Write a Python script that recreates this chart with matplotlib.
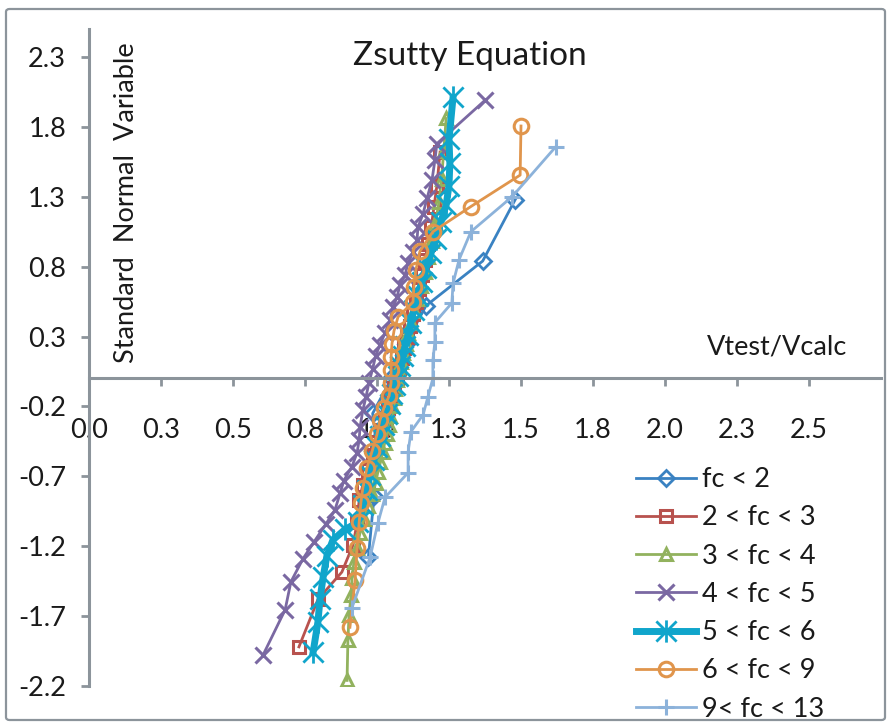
import matplotlib
matplotlib.use("Agg")
import matplotlib.pyplot as plt
from matplotlib.patches import FancyBboxPatch
from matplotlib.path import Path

plt.rcParams['font.family'] = ['Lato', 'DejaVu Sans']

title = "Zsutty Equation"
ylabel = "Standard  Normal  Variable"
xlabel = "Vtest/Vcalc"

x_ticks = [0.0, 0.25, 0.5, 0.75, 1.0, 1.25, 1.5, 1.75, 2.0, 2.25, 2.5]
x_tick_labels = ["0.0", "0.3", "0.5", "0.8", "1.0", "1.3", "1.5", "1.8", "2.0", "2.3", "2.5"]
y_ticks = [-2.2, -1.7, -1.2, -0.7, -0.2, 0.3, 0.8, 1.3, 1.8, 2.3]
y_tick_labels = ["-2.2", "-1.7", "-1.2", "-0.7", "-0.2", "0.3", "0.8", "1.3", "1.8", "2.3"]

labels = ["fc < 2", "2 < fc < 3", "3 < fc < 4", "4 < fc < 5", "5 < fc < 6", "6 < fc < 9", "9< fc < 13"]

s1_x = [0.97, 0.99, 1.0, 0.985, 1.05, 1.10, 1.17, 1.367, 1.48]
s1_y = [-1.28, -0.84, -0.52, -0.25, 0.0, 0.25, 0.52, 0.84, 1.28]

s2_x = [0.729, 0.795, 0.878, 0.917, 0.931, 0.938, 0.951, 0.969, 0.986, 1.0, 1.014, 1.028, 1.038,
        1.049, 1.059, 1.069, 1.076, 1.087, 1.094, 1.104, 1.115, 1.125, 1.135, 1.146, 1.156, 1.167,
        1.177, 1.188, 1.198, 1.208, 1.219]
s2_y = [-1.92, -1.58, -1.385, -1.19, -1.03, -0.87, -0.76, -0.655, -0.55, -0.455, -0.37, -0.29, -0.21,
        -0.14, -0.07, 0.0, 0.075, 0.147, 0.22, 0.297, 0.375, 0.46, 0.547, 0.64, 0.74, 0.848,
        0.96, 1.08, 1.23, 1.38, 1.62]

s3_x = [0.896, 0.899, 0.903, 0.91, 0.913, 0.92, 0.93, 0.941, 0.955, 0.969, 0.983, 0.995, 1.003,
        1.012, 1.02, 1.027, 1.034, 1.04, 1.046, 1.052, 1.058, 1.064, 1.07, 1.077, 1.084, 1.092,
        1.1, 1.108, 1.118, 1.128, 1.14, 1.152, 1.165, 1.177, 1.19, 1.203, 1.215, 1.224, 1.232, 1.24]
s3_y = [-2.16, -1.87, -1.69, -1.55, -1.43, -1.31, -1.21, -1.105, -1.005, -0.91, -0.83, -0.75, -0.67,
        -0.6, -0.525, -0.46, -0.4, -0.33, -0.27, -0.2, -0.14, -0.075, -0.01, 0.05, 0.12, 0.18,
        0.25, 0.325, 0.4, 0.48, 0.57, 0.66, 0.76, 0.87, 0.98, 1.11, 1.26, 1.43, 1.63, 1.86]

s4_x = [0.604, 0.681, 0.701, 0.743, 0.781, 0.823, 0.854, 0.872, 0.885, 0.913, 0.931, 0.938, 0.941,
        0.951, 0.962, 0.972, 0.985, 0.995, 1.010, 1.028, 1.045, 1.056, 1.069, 1.080, 1.097, 1.108,
        1.125, 1.139, 1.142, 1.160, 1.174, 1.191, 1.201, 1.208, 1.375]
s4_y = [-1.98, -1.655, -1.455, -1.29, -1.17, -1.04, -0.94, -0.82, -0.73, -0.63, -0.53, -0.44, -0.35,
        -0.225, -0.13, -0.03, 0.07, 0.16, 0.24, 0.325, 0.418, 0.51, 0.58, 0.67, 0.74, 0.826,
        0.905, 0.99, 1.08, 1.18, 1.29, 1.42, 1.56, 1.68, 1.99]

s5_x = [0.778, 0.795, 0.802, 0.813, 0.826, 0.847, 0.889, 0.934, 0.951, 0.965, 0.976, 0.99, 1.0,
        1.01, 1.024, 1.035, 1.045, 1.052, 1.062, 1.073, 1.08, 1.09, 1.097, 1.108, 1.118, 1.128,
        1.142, 1.156, 1.17, 1.188, 1.205, 1.222, 1.24, 1.25, 1.253, 1.25, 1.264]
s5_y = [-1.96, -1.74, -1.58, -1.42, -1.27, -1.155, -1.08, -1.03, -0.905, -0.8, -0.69, -0.58, -0.49,
        -0.41, -0.33, -0.255, -0.18, -0.11, -0.05, 0.02, 0.09, 0.16, 0.23, 0.31, 0.4, 0.49,
        0.59, 0.69, 0.79, 0.9, 1.0, 1.12, 1.24, 1.38, 1.54, 1.71, 2.01]

s6_x = [0.906, 0.924, 0.931, 0.938, 0.944, 0.951, 0.965, 0.983, 1.0, 1.01, 1.024, 1.042, 1.049,
        1.049, 1.049, 1.052, 1.059, 1.073, 1.125, 1.128, 1.135, 1.149, 1.194, 1.326, 1.497, 1.5]
s6_y = [-1.78, -1.44, -1.21, -1.03, -0.89, -0.78, -0.64, -0.52, -0.4, -0.3, -0.21, -0.125, -0.03,
        0.06, 0.154, 0.25, 0.34, 0.44, 0.547, 0.655, 0.775, 0.91, 1.05, 1.23, 1.455, 1.806]

s7_x = [0.913, 0.976, 1.003, 1.028, 1.108, 1.108, 1.118, 1.16, 1.177, 1.194, 1.194, 1.201, 1.201,
        1.26, 1.264, 1.285, 1.326, 1.469, 1.62]
s7_y = [-1.64, -1.28, -1.035, -0.85, -0.675, -0.525, -0.38, -0.26, -0.13, 0.0, 0.13, 0.26, 0.4,
        0.54, 0.68, 0.85, 1.05, 1.3, 1.656]

# Excel-style star marker: an X plus a vertical bar
star = Path([(-1, -1), (1, 1), (-1, 1), (1, -1), (0, -1.1), (0, 1.1)],
            [Path.MOVETO, Path.LINETO, Path.MOVETO, Path.LINETO, Path.MOVETO, Path.LINETO])

series = [(s1_x, s1_y), (s2_x, s2_y), (s3_x, s3_y), (s4_x, s4_y), (s5_x, s5_y), (s6_x, s6_y), (s7_x, s7_y)]
colors = ["#3A82C2", "#B8524E", "#92B25E", "#7A68A2", "#10A5CB", "#E0954C", "#8CB2DA"]
markers = ["D", "s", "^", "x", star, "o", "+"]
msizes = [8, 9, 9, 11, 16, 10.5, 12]
lwidths = [2.0, 2.0, 2.0, 2.0, 5.0, 2.0, 2.0]
mews = [2.0, 2.2, 2.2, 2.2, 2.0, 2.2, 2.2]

fig = plt.figure(figsize=(8.91, 7.28), dpi=100)
frame = FancyBboxPatch((6 / 891, 8 / 728), 879 / 891, 711 / 728,
                       boxstyle="round,pad=0,rounding_size=0.004",
                       transform=fig.transFigure, facecolor="none",
                       edgecolor="#8C949B", linewidth=1.6, zorder=-10)
fig.patches.append(frame)

ax = fig.add_axes([89 / 891, 1 - 686 / 728, (881 - 89) / 891, (686 - 29) / 728])
ax.patch.set_alpha(0)

for (xs, ys), c, m, ms, lw, mew, lab in zip(series, colors, markers, msizes, lwidths, mews, labels):
    hollow = isinstance(m, str) and m in ("D", "s", "^", "o")
    ax.plot(xs, ys, color=c, lw=lw, marker=m, markersize=ms, markeredgewidth=mew,
            markerfacecolor="none" if hollow else c,
            markeredgecolor=c, label=lab)

ax.set_xlim(0, 2.75)
ax.set_ylim(-2.2, 2.5)
for s in ["top", "right"]:
    ax.spines[s].set_visible(False)
ax.spines["bottom"].set_position(("data", 0))
for s in ["left", "bottom"]:
    ax.spines[s].set_color("#8C949B")
    ax.spines[s].set_linewidth(2.2)

ax.set_xticks(x_ticks)
ax.set_xticklabels(x_tick_labels)
ax.set_yticks(y_ticks)
ax.set_yticklabels(y_tick_labels)
ax.tick_params(axis="x", direction="out", length=5.5, width=2, color="#8C949B",
               labelsize=19.5, pad=23, labelcolor="#1a1a1a")
ax.tick_params(axis="y", direction="out", length=5.5, width=2, color="#8C949B",
               labelsize=19.5, pad=11, labelcolor="#1a1a1a")

fig.text(470 / 891, 1 - 56 / 728, title, ha="center", va="center", fontsize=24, color="#1a1a1a")
fig.text(126 / 891, 1 - 203 / 728, ylabel, ha="center", va="center", rotation=90,
         fontsize=19.5, color="#1a1a1a")
fig.text(777 / 891, 1 - 347 / 728, xlabel, ha="center", va="center", fontsize=19.5, color="#1a1a1a")

leg = ax.legend(loc="upper left", bbox_to_anchor=(636 / 891, 1 - 467 / 728),
                bbox_transform=fig.transFigure, frameon=False, fontsize=19.5,
                handlelength=2.2, handletextpad=0.25, labelspacing=0.49,
                borderpad=0, borderaxespad=0)
for t in leg.get_texts():
    t.set_color("#1a1a1a")

fig.savefig("out.png", dpi=100)
